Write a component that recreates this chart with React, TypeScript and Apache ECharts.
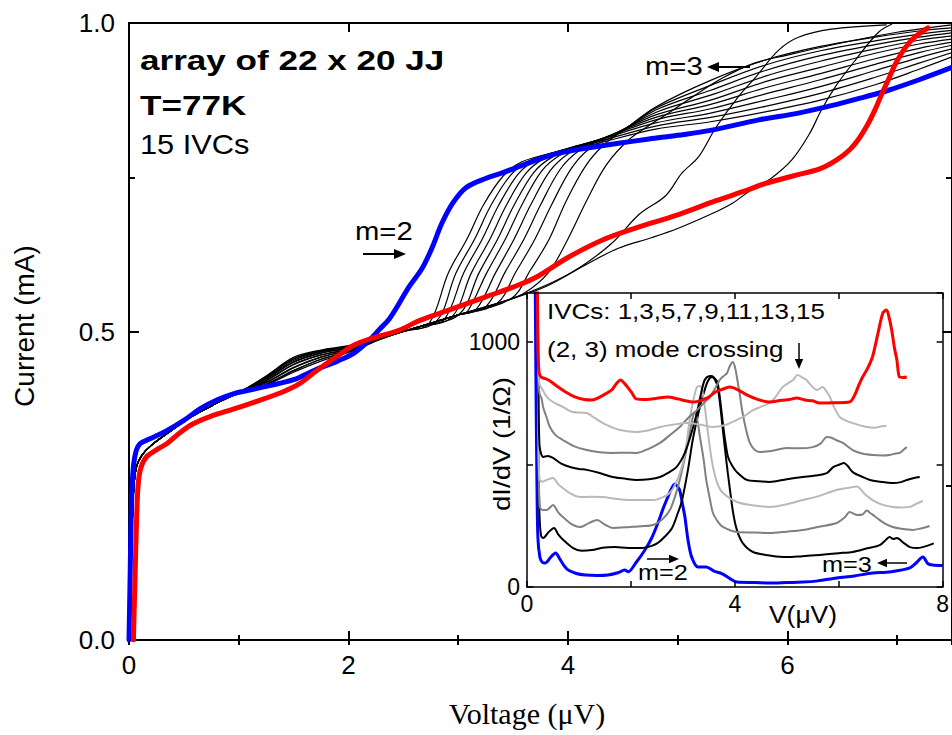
import React, { useEffect, useRef } from "react";
import * as echarts from "echarts";

// ---------- Main chart: I-V curves (Voltage in µV, Current in mA) ----------
const xTicksMain = [0, 2, 4, 6];
const yTicksMain = [0, 0.5, 1.0];

const blueIVC1 = [[0,0],[0.01,0.1],[0.02,0.2],[0.035,0.27],[0.06,0.303],[0.1,0.318],[0.19,0.326],[0.34,0.339],[0.5,0.356],[0.65,0.375],[0.8,0.389],[0.95,0.399],[1.1,0.405],[1.25,0.411],[1.5,0.422],[1.7,0.438],[1.9,0.452],[2.05,0.465],[2.19,0.486],[2.28,0.503],[2.37,0.52],[2.46,0.545],[2.55,0.572],[2.67,0.602],[2.76,0.635],[2.85,0.675],[2.95,0.708],[3.07,0.733],[3.25,0.748],[3.4,0.757],[3.55,0.767],[3.7,0.777],[3.85,0.786],[4.0,0.792],[4.16,0.797],[4.46,0.805],[4.74,0.812],[5.0,0.818],[5.3,0.826],[5.74,0.843],[6.1,0.854],[6.4,0.866],[6.7,0.88],[6.92,0.891],[7.2,0.908],[7.5,0.928]];

const redIVC15 = [[0.04,0],[0.055,0.1],[0.07,0.2],[0.085,0.255],[0.11,0.28],[0.16,0.297],[0.25,0.308],[0.35,0.319],[0.45,0.334],[0.58,0.35],[0.75,0.363],[0.95,0.374],[1.15,0.386],[1.4,0.402],[1.55,0.415],[1.7,0.435],[1.8,0.448],[1.89,0.459],[2.04,0.477],[2.2,0.488],[2.46,0.502],[2.65,0.518],[2.92,0.535],[3.25,0.556],[3.5,0.572],[3.71,0.588],[4.0,0.62],[4.31,0.648],[4.62,0.668],[5.0,0.689],[5.35,0.712],[5.6,0.727],[5.8,0.74],[6.05,0.752],[6.3,0.764],[6.45,0.778],[6.57,0.795],[6.65,0.812],[6.73,0.835],[6.8,0.86],[6.86,0.885],[6.92,0.908],[6.98,0.932],[7.04,0.951],[7.1,0.966],[7.16,0.977],[7.28,0.992]];

// common start of the black IVCs (2..14)
const blackStart = [[0,0],[0.015,0.1],[0.03,0.19],[0.045,0.25],[0.07,0.282],[0.12,0.3],[0.2,0.315],[0.35,0.335],[0.55,0.36],[0.8,0.384],[1.0,0.401]];

const ivc2 = [[1.25,0.414],[1.5,0.436],[1.75,0.455],[2.0,0.467],[2.3,0.488],[2.5,0.5],[2.73,0.512],[2.91,0.595],[3.08,0.65],[3.23,0.705],[3.41,0.752],[3.58,0.775],[3.9,0.791],[4.2,0.802],[4.8,0.828],[5.3,0.84],[5.8,0.856],[6.3,0.875],[6.8,0.9],[7.2,0.925],[7.5,0.945]];
const ivc3 = [[1.25,0.418],[1.5,0.442],[1.75,0.459],[2.0,0.469],[2.3,0.489],[2.5,0.5],[2.8,0.516],[2.98,0.595],[3.15,0.65],[3.3,0.705],[3.48,0.754],[3.65,0.777],[3.95,0.794],[4.2,0.804],[4.8,0.833],[5.3,0.847],[5.8,0.865],[6.3,0.886],[6.8,0.912],[7.2,0.935],[7.5,0.952]];
const ivc4 = [[1.25,0.421],[1.5,0.447],[1.75,0.462],[2.0,0.471],[2.3,0.49],[2.5,0.5],[2.65,0.508],[2.87,0.519],[3.05,0.595],[3.22,0.65],[3.37,0.705],[3.55,0.756],[3.72,0.779],[4.0,0.797],[4.2,0.806],[4.8,0.838],[5.3,0.854],[5.8,0.875],[6.3,0.897],[6.8,0.923],[7.2,0.944],[7.5,0.958]];
const ivc5 = [[1.25,0.424],[1.5,0.451],[1.75,0.465],[2.0,0.473],[2.3,0.49],[2.5,0.5],[2.65,0.508],[2.94,0.523],[3.12,0.595],[3.29,0.65],[3.44,0.705],[3.62,0.757],[3.79,0.781],[4.05,0.799],[4.25,0.809],[4.8,0.843],[5.3,0.861],[5.8,0.885],[6.3,0.908],[6.8,0.933],[7.2,0.952],[7.5,0.964]];
const ivc6 = [[1.25,0.426],[1.5,0.455],[1.75,0.468],[2.0,0.475],[2.3,0.491],[2.65,0.508],[3.01,0.528],[3.19,0.595],[3.36,0.65],[3.51,0.705],[3.69,0.758],[3.86,0.783],[4.1,0.801],[4.3,0.812],[4.8,0.847],[5.3,0.868],[5.8,0.895],[6.3,0.918],[6.8,0.942],[7.2,0.959],[7.5,0.969]];
const ivc7 = [[1.25,0.428],[1.5,0.458],[1.75,0.47],[2.0,0.477],[2.3,0.491],[2.65,0.508],[3.0,0.527],[3.08,0.531],[3.26,0.595],[3.43,0.65],[3.58,0.705],[3.76,0.76],[3.93,0.786],[4.15,0.803],[4.35,0.815],[4.8,0.851],[5.3,0.875],[5.8,0.905],[6.3,0.928],[6.8,0.951],[7.2,0.966],[7.5,0.974]];
const ivc8 = [[1.25,0.427],[1.5,0.456],[1.75,0.469],[2.0,0.476],[2.3,0.491],[2.65,0.508],[3.0,0.527],[3.16,0.535],[3.34,0.595],[3.51,0.65],[3.66,0.705],[3.84,0.761],[4.01,0.789],[4.2,0.805],[4.4,0.818],[4.8,0.855],[5.3,0.883],[5.8,0.914],[6.3,0.938],[6.8,0.958],[7.2,0.972],[7.5,0.979]];
const ivc9 = [[1.25,0.425],[1.5,0.453],[1.75,0.467],[2.0,0.475],[2.3,0.491],[2.65,0.508],[3.0,0.527],[3.25,0.54],[3.43,0.597],[3.6,0.65],[3.75,0.705],[3.93,0.763],[4.1,0.793],[4.3,0.81],[4.5,0.826],[4.8,0.859],[5.3,0.891],[5.8,0.923],[6.3,0.947],[6.8,0.965],[7.2,0.977],[7.5,0.984]];
const ivc10 = [[1.25,0.423],[1.5,0.45],[1.75,0.465],[2.0,0.474],[2.3,0.49],[2.65,0.508],[3.0,0.527],[3.35,0.545],[3.53,0.598],[3.7,0.65],[3.85,0.705],[4.03,0.764],[4.2,0.797],[4.4,0.815],[4.6,0.838],[4.8,0.862],[5.3,0.899],[5.8,0.932],[6.3,0.955],[6.8,0.971],[7.2,0.982],[7.5,0.988]];
const ivc11 = [[1.25,0.42],[1.5,0.446],[1.75,0.462],[2.0,0.472],[2.3,0.49],[2.65,0.508],[3.0,0.527],[3.48,0.553],[3.66,0.6],[3.83,0.65],[3.98,0.71],[4.16,0.768],[4.33,0.803],[4.55,0.832],[4.8,0.864],[5.3,0.907],[5.8,0.94],[6.3,0.962],[6.8,0.977],[7.2,0.987],[7.5,0.992]];
const ivc12 = [[1.25,0.417],[1.5,0.441],[1.75,0.458],[2.0,0.47],[2.3,0.489],[2.65,0.508],[3.0,0.527],[3.4,0.548],[3.6,0.562],[3.82,0.595],[4.0,0.65],[4.17,0.712],[4.35,0.77],[4.55,0.81],[4.75,0.835],[4.9,0.852],[5.1,0.876],[5.4,0.91],[5.7,0.935],[6.0,0.948],[6.5,0.968],[7.0,0.985],[7.5,0.997]];
const ivc13 = [[1.25,0.415],[1.5,0.437],[1.75,0.455],[2.0,0.468],[2.3,0.489],[2.65,0.508],[3.0,0.527],[3.4,0.548],[3.8,0.575],[4.1,0.603],[4.4,0.643],[4.65,0.69],[4.89,0.72],[5.04,0.757],[5.19,0.783],[5.35,0.831],[5.55,0.88],[5.71,0.912],[5.92,0.956],[6.1,0.977],[6.4,0.99],[6.9,0.997]];
const ivc14 = [[1.25,0.413],[1.5,0.434],[1.75,0.452],[2.0,0.466],[2.3,0.488],[2.65,0.508],[3.0,0.527],[3.4,0.548],[3.8,0.573],[4.16,0.608],[4.46,0.635],[4.76,0.652],[5.0,0.667],[5.3,0.69],[5.5,0.708],[5.65,0.727],[5.85,0.748],[6.04,0.778],[6.2,0.82],[6.31,0.859],[6.45,0.9],[6.62,0.94],[6.83,0.985],[6.95,0.998]];

// ---------- Inset: dI/dV (1/Ω) vs V (µV), curves offset ----------
const insetTicksX = [0, 4, 8];
const insetTicksY = [0, 1000];

const dIdV1 = [[0.15,1500],[0.17,900],[0.19,450],[0.21,200],[0.25,120],[0.3,100],[0.35,98],[0.45,120],[0.55,139],[0.63,115],[0.72,85],[0.8,68],[0.95,55],[1.12,49],[1.35,47],[1.56,49],[1.75,58],[1.88,69],[1.95,62],[2.1,100],[2.27,151],[2.4,200],[2.52,261],[2.62,320],[2.71,367],[2.79,405],[2.85,420],[2.9,410],[2.94,395],[3.0,330],[3.04,286],[3.1,190],[3.17,122],[3.29,82],[3.45,82],[3.6,65],[3.75,55],[3.9,35],[4.04,20],[4.4,18],[4.67,16],[5.0,18],[5.31,20],[5.6,25],[5.96,37],[6.3,45],[6.65,57],[6.92,60],[7.1,65],[7.37,78],[7.5,100],[7.62,122],[7.72,95],[7.81,90],[8.0,88]];
const dIdV3 = [[0.2,1500],[0.22,600],[0.24,300],[0.27,210],[0.31,200],[0.42,225],[0.52,241],[0.6,215],[0.7,192],[0.88,160],[1.05,148],[1.25,151],[1.45,160],[1.69,163],[1.95,159],[2.21,159],[2.4,168],[2.52,180],[2.65,205],[2.79,240],[2.9,300],[2.98,350],[3.1,480],[3.19,600],[3.3,710],[3.38,776],[3.48,840],[3.56,857],[3.62,845],[3.67,816],[3.72,740],[3.77,641],[3.84,510],[3.9,408],[3.97,300],[4.04,233],[4.15,180],[4.35,143],[4.7,128],[5.0,122],[5.3,126],[5.63,131],[6.0,138],[6.27,143],[6.55,158],[6.79,171],[6.92,195],[6.98,204],[7.05,196],[7.12,200],[7.25,180],[7.37,163],[7.52,159],[7.7,168],[7.83,178]];
const dIdV5 = [[0.2,1500],[0.22,600],[0.24,340],[0.28,316],[0.38,314],[0.5,335],[0.6,305],[0.69,286],[0.85,258],[1.02,245],[1.2,262],[1.35,273],[1.5,255],[1.65,241],[1.98,245],[2.2,248],[2.43,253],[2.6,275],[2.75,314],[2.85,370],[2.94,437],[3.05,540],[3.13,629],[3.2,700],[3.23,710],[3.28,680],[3.33,612],[3.4,520],[3.45,437],[3.52,360],[3.58,302],[3.68,265],[3.77,245],[4.04,224],[4.4,222],[4.67,220],[5.0,226],[5.31,233],[5.6,245],[5.96,261],[6.12,285],[6.21,306],[6.35,294],[6.46,296],[6.54,312],[6.62,300],[6.7,288],[6.79,273],[6.9,258],[7.04,245],[7.2,238],[7.42,233],[7.6,240],[7.75,249]];
const dIdV7 = [[0.2,1500],[0.22,600],[0.24,440],[0.3,430],[0.38,437],[0.5,445],[0.6,420],[0.69,404],[0.85,380],[1.02,367],[1.25,368],[1.46,367],[1.7,360],[1.98,355],[2.2,355],[2.43,355],[2.6,365],[2.75,384],[2.88,430],[3.0,506],[3.08,600],[3.13,682],[3.2,760],[3.27,816],[3.33,820],[3.37,804],[3.42,740],[3.46,669],[3.52,570],[3.58,490],[3.67,420],[3.77,384],[4.04,347],[4.3,335],[4.67,327],[5.0,338],[5.31,355],[5.6,370],[5.96,396],[6.2,405],[6.35,410],[6.5,380],[6.65,355],[6.85,335],[7.04,327],[7.2,325],[7.37,327],[7.5,340],[7.62,351]];
const dIdV9 = [[0.2,1500],[0.22,800],[0.24,580],[0.27,545],[0.31,531],[0.4,535],[0.5,527],[0.65,505],[0.83,490],[1.0,482],[1.15,478],[1.4,465],[1.65,449],[1.9,442],[2.1,437],[2.35,440],[2.56,449],[2.75,470],[2.88,490],[3.0,530],[3.08,571],[3.18,640],[3.27,710],[3.35,790],[3.42,845],[3.5,860],[3.56,861],[3.62,850],[3.67,833],[3.72,760],[3.77,669],[3.82,590],[3.87,531],[3.95,495],[4.04,469],[4.23,437],[4.45,432],[4.67,429],[5.0,440],[5.31,449],[5.55,455],[5.77,465],[5.9,490],[6.02,500],[6.1,506],[6.17,495],[6.27,469],[6.45,450],[6.6,437],[6.8,430],[7.04,424],[7.2,428],[7.31,437],[7.45,445],[7.56,449]];
const dIdV11 = [[0.2,1500],[0.22,850],[0.24,790],[0.28,770],[0.31,735],[0.38,690],[0.44,653],[0.55,620],[0.69,600],[0.9,575],[1.15,559],[1.4,550],[1.65,547],[1.9,548],[2.1,547],[2.35,565],[2.56,588],[2.75,620],[2.94,653],[3.1,690],[3.27,722],[3.4,750],[3.52,776],[3.62,810],[3.71,845],[3.78,860],[3.85,873],[3.9,900],[3.96,918],[4.0,900],[4.04,857],[4.1,780],[4.15,710],[4.22,640],[4.29,588],[4.38,560],[4.48,551],[4.7,555],[5.0,567],[5.25,566],[5.5,571],[5.65,585],[5.77,612],[5.85,610],[5.95,600],[6.08,588],[6.27,559],[6.45,545],[6.65,539],[6.85,537],[6.98,539],[7.1,545],[7.17,547],[7.25,560],[7.31,571]];
const dIdV13 = [[0.2,1500],[0.22,900],[0.24,830],[0.3,805],[0.38,776],[0.5,755],[0.69,735],[0.88,714],[1.15,710],[1.3,690],[1.46,669],[1.6,655],[1.79,641],[2.1,633],[2.35,640],[2.56,653],[2.8,662],[3.08,669],[3.35,662],[3.58,653],[3.8,660],[4.04,682],[4.2,700],[4.35,722],[4.5,735],[4.67,751],[4.8,780],[4.92,816],[5.05,835],[5.12,845],[5.21,865],[5.3,855],[5.38,845],[5.48,820],[5.58,804],[5.69,816],[5.76,800],[5.83,776],[5.92,730],[6.02,694],[6.15,678],[6.27,669],[6.54,653],[6.7,650],[6.8,655],[6.92,657]];
const dIdV15 = [[0.19,1500],[0.21,1000],[0.23,880],[0.27,857],[0.36,850],[0.45,840],[0.6,816],[0.75,795],[0.92,776],[1.1,765],[1.25,763],[1.4,775],[1.54,792],[1.63,804],[1.72,830],[1.8,845],[1.88,830],[1.95,812],[2.02,792],[2.1,768],[2.3,765],[2.5,770],[2.71,776],[2.9,768],[3.05,760],[3.19,755],[3.37,763],[3.5,775],[3.62,795],[3.75,806],[3.9,816],[4.05,806],[4.23,784],[4.45,765],[4.67,755],[4.9,762],[5.05,765],[5.19,771],[5.35,763],[5.5,760],[5.63,751],[5.9,752],[6.21,755],[6.3,780],[6.4,830],[6.46,857],[6.55,890],[6.65,939],[6.75,1030],[6.85,1118],[6.92,1131],[6.97,1100],[7.02,1049],[7.07,980],[7.12,927],[7.17,857],[7.24,855],[7.31,857]];

const SANS = 'Arial, "Liberation Sans", Helvetica, sans-serif';
const SERIF = '"Times New Roman", "Liberation Serif", serif';
const GRAY = "#808080";
const LIGHT = "#b9b9b9";
const BLUE = "#0000ff";
const RED = "#ff0000";

function mainLine(data: number[][], color: string, width: number) {
  return {
    type: "line", xAxisIndex: 0, yAxisIndex: 0, data, showSymbol: false, symbol: "none",
    smooth: 0.35, lineStyle: { color, width, join: "round", cap: "round" }, z: 2, silent: true,
  };
}
function insetLine(data: number[][], color: string, width: number) {
  return {
    type: "line", xAxisIndex: 4, yAxisIndex: 2, data, showSymbol: false, symbol: "none",
    smooth: 0.3, lineStyle: { color, width, join: "round" }, z: 7, silent: true,
  };
}
function txt(text: string, x: number, y: number, size: number, o: any = {}) {
  return {
    type: "text", x, y, z: 20, scaleX: o.sx ?? 1, rotation: o.rot ?? 0,
    style: {
      text, fontSize: size, fontFamily: o.family ?? SANS, fontWeight: o.bold ? "bold" : "normal",
      fill: "#000", textAlign: o.align ?? "left", textVerticalAlign: "middle",
    },
  };
}
function arrow(x1: number, y1: number, x2: number, y2: number, w: number, head: number) {
  const dx = x2 - x1, dy = y2 - y1; const L = Math.hypot(dx, dy); const ux = dx / L, uy = dy / L;
  const bx = x2 - ux * head, by = y2 - uy * head; const px = -uy * head * 0.42, py = ux * head * 0.42;
  return [
    { type: "line", z: 20, shape: { x1, y1, x2: bx, y2: by }, style: { stroke: "#000", lineWidth: w } },
    { type: "polygon", z: 20, shape: { points: [[x2, y2], [bx + px, by + py], [bx - px, by - py]] }, style: { fill: "#000" } },
  ];
}

const axisBase = (o: any) => ({
  type: "value", splitLine: { show: false },
  axisLine: { show: true, onZero: false, lineStyle: { color: "#000", width: o.lw ?? 2 } },
  axisTick: { show: true, inside: true, length: o.tl ?? 9, lineStyle: { color: "#000", width: o.lw ?? 2 } },
  ...o.extra,
});

export default function App() {
  const ref = useRef<HTMLDivElement>(null);
  useEffect(() => {
    const chart = echarts.init(ref.current!, null, { renderer: "svg" });
    const blacks = [ivc2, ivc3, ivc4, ivc5, ivc6, ivc7, ivc8, ivc9, ivc10, ivc11, ivc12, ivc13, ivc14];
    const mainLabel = { color: "#000", fontSize: 26, fontFamily: SANS };
    const insetLabel = { color: "#000", fontSize: 23, fontFamily: SANS };
    const option: any = {
      animation: false,
      backgroundColor: "#fff",
      grid: [
        { left: 129, top: 23, width: 825, height: 617, show: false },
        { left: 527, top: 293, width: 416, height: 294, show: true, backgroundColor: "#fff", borderWidth: 0, z: 5 },
      ],
      xAxis: [
        axisBase({ extra: { gridIndex: 0, position: "bottom", min: 0, max: 7.5, interval: 2,
          axisLabel: { ...mainLabel, margin: 12, showMaxLabel: false,
            formatter: (v: number) => (xTicksMain.includes(v) ? String(v) : "") } } }),
        axisBase({ tl: 5, extra: { gridIndex: 0, position: "bottom", min: 0, max: 7.5, interval: 1,
          axisLine: { show: false }, axisLabel: { show: false } } }),
        axisBase({ extra: { gridIndex: 0, position: "top", min: 0, max: 7.5, interval: 2, axisLabel: { show: false } } }),
        axisBase({ tl: 5, extra: { gridIndex: 0, position: "top", min: 0, max: 7.5, interval: 1,
          axisLine: { show: false }, axisLabel: { show: false } } }),
        axisBase({ lw: 1.5, tl: 6, extra: { gridIndex: 1, position: "bottom", min: 0, max: 8, interval: 2, z: 8,
          axisLabel: { ...insetLabel, margin: 5, formatter: (v: number) => (insetTicksX.includes(v) ? String(v) : "") } } }),
        axisBase({ lw: 1.5, tl: 6, extra: { gridIndex: 1, position: "top", min: 0, max: 8, interval: 2, z: 8,
          axisLabel: { show: false } } }),
      ],
      yAxis: [
        axisBase({ tl: 10, extra: { gridIndex: 0, position: "left", min: 0, max: 1, interval: 0.5,
          minorTick: { show: true, splitNumber: 2, length: 6, lineStyle: { color: "#000", width: 2 } },
          axisLabel: { ...mainLabel, margin: 14, formatter: (v: number) => (yTicksMain.includes(v) ? v.toFixed(1) : "") } } }),
        axisBase({ tl: 10, extra: { gridIndex: 0, position: "right", min: 0, max: 1, interval: 0.5,
          minorTick: { show: true, splitNumber: 2, length: 6, lineStyle: { color: "#000", width: 2 } },
          axisLabel: { show: false } } }),
        axisBase({ lw: 1.5, tl: 6, extra: { gridIndex: 1, position: "left", min: 0, max: 1200, interval: 500, z: 8,
          axisLabel: { ...insetLabel, margin: 7, showMaxLabel: false,
            formatter: (v: number) => (insetTicksY.includes(v) ? String(v) : "") } } }),
        axisBase({ lw: 1.5, tl: 6, extra: { gridIndex: 1, position: "right", min: 0, max: 1200, interval: 500, z: 8,
          axisLabel: { show: false } } }),
      ],
      series: [
        ...blacks.map((b) => mainLine([...blackStart, ...b], "#000", 1.2)),
        mainLine(blueIVC1, BLUE, 5),
        mainLine(redIVC15, RED, 5),
        insetLine(dIdV1, BLUE, 3),
        insetLine(dIdV3, "#000", 2),
        insetLine(dIdV5, GRAY, 2),
        insetLine(dIdV7, LIGHT, 2),
        insetLine(dIdV9, "#000", 2),
        insetLine(dIdV11, GRAY, 2),
        insetLine(dIdV13, LIGHT, 2),
        insetLine(dIdV15, RED, 3),
      ],
      graphic: [
        txt("array of 22 x 20 JJ", 140, 61, 27, { bold: true, sx: 1.3 }),
        txt("T=77K", 140, 106, 27, { bold: true, sx: 1.3 }),
        txt("15 IVCs", 140, 145, 27, { sx: 1.14 }),
        txt("m=3", 645, 66, 25, { sx: 1.17 }),
        ...arrow(750, 67, 707, 67, 2, 12),
        txt("m=2", 355, 231, 25, { sx: 1.17 }),
        ...arrow(363, 254, 406, 254, 2, 12),
        txt("Current (mA)", 24, 326, 28, { rot: Math.PI / 2, align: "center" }),
        txt("Voltage (\u03bcV)", 527, 713, 30, { family: SERIF, align: "center" }),
        txt("IVCs: 1,3,5,7,9,11,13,15", 547, 311, 22, { sx: 1.18 }),
        txt("(2, 3) mode crossing", 547, 349, 22, { sx: 1.18 }),
        ...arrow(799, 343, 799, 369, 1.5, 10),
        txt("m=2", 638, 573, 22, { sx: 1.15 }),
        ...arrow(647, 559, 679, 559, 1.5, 10),
        txt("m=3", 822, 565, 22, { sx: 1.15 }),
        ...arrow(907, 563, 877, 563, 1.5, 10),
        txt("V(\u03bcV)", 803, 614, 24, { sx: 1.1, align: "center" }),
        txt("dI/dV (1/\u03a9)", 502, 444, 23, { rot: Math.PI / 2, sx: 1.2, align: "center" }),
      ],
    };
    chart.setOption(option);
    return () => chart.dispose();
  }, []);
  return <div ref={ref} style={{ position: "absolute", left: 0, top: 0, width: 952, height: 735, background: "#fff" }} />;
}
